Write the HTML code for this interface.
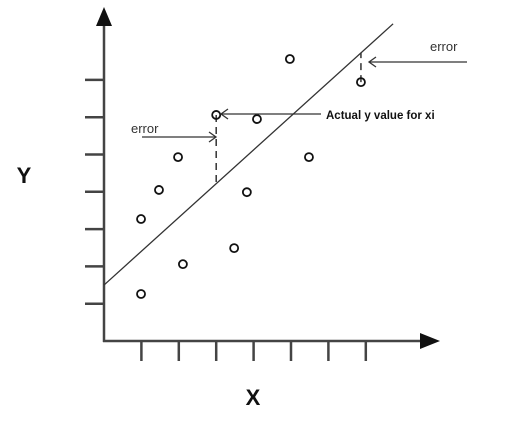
<!DOCTYPE html>
<html><head><meta charset="utf-8"><style>
html,body{margin:0;padding:0;background:#fff;}
svg{display:block;font-family:"Liberation Sans",sans-serif;}
</style></head><body>
<svg width="522" height="435" viewBox="0 0 522 435">
<g id="axes" stroke="#444" stroke-width="2.5" fill="none"></g>
<g id="marks"></g>
<text x="24" y="183" font-size="22" font-weight="bold" text-anchor="middle" fill="#111">Y</text>
<text x="253" y="405" font-size="22" font-weight="bold" text-anchor="middle" fill="#111">X</text>
<text x="131" y="133" font-size="13" fill="#333">error</text>
<text x="430" y="51" font-size="13" fill="#333">error</text>
<text x="326" y="119" font-size="11.5" font-weight="bold" fill="#111">Actual y value for xi</text>
<script>
const xTicks=[1,2,3,4,5,6,7];
const yTicks=[1,2,3,4,5,6,7];
const pointsX=[0.99,1.47,1.98,0.99,2.11,3.0,3.48,3.82,4.09,4.97,5.48,6.87];
const pointsY=[3.27,4.05,4.93,1.26,2.06,6.06,2.49,3.99,5.95,7.56,4.93,6.94];
const lineIntercept=[1.5];
const lineSlope=[0.906];
const lineRange=[0,7.73];
const errorPointIdx=[5,11];

const NS="http://www.w3.org/2000/svg";
const X=v=>104+v*37.4, Y=v=>341-v*37.3;
const axes=document.getElementById('axes'), marks=document.getElementById('marks'), svg=document.querySelector('svg');
function mk(p,tag,at){const e=document.createElementNS(NS,tag);for(const k in at)e.setAttribute(k,at[k]);p.appendChild(e);return e;}
let e=mk(axes,'line',{x1:104,y1:22,x2:104,y2:342});


e=mk(axes,'line',{x1:103,y1:341,x2:425,y2:341});


e=mk(svg,'polygon',{points:'96,26 104,7 112,26',fill:'#111'});


e=mk(svg,'polygon',{points:'420,333 440,341 420,349',fill:'#111'});


yTicks.forEach(v=>{const t=mk(axes,'line',{x1:85,x2:104,y1:Y(v),y2:Y(v)});

});
xTicks.forEach(v=>{const t=mk(axes,'line',{x1:X(v),x2:X(v),y1:341,y2:361});

});
const ly=x=>lineIntercept[0]+lineSlope[0]*x;
e=mk(marks,'line',{x1:X(lineRange[0]),y1:Y(ly(lineRange[0])),x2:X(lineRange[1]),y2:Y(ly(lineRange[1])),stroke:'#333','stroke-width':1.3});


errorPointIdx.forEach(i=>{const x=pointsX[i];
const d=mk(marks,'line',{x1:X(x),x2:X(x),y1:Y(pointsY[i]),y2:Y(ly(x)),stroke:'#333','stroke-width':1.5,'stroke-dasharray':'7,5'});

});
pointsX.forEach((x,i)=>{const c=mk(marks,'circle',{cx:X(x),cy:Y(pointsY[i]),r:4,fill:'none',stroke:'#111','stroke-width':1.8});

});
function arrow(x1,y,x2,name){const g=mk(marks,'g',{stroke:'#333','stroke-width':1.3,fill:'none'});


mk(g,'line',{x1:x1,y1:y,x2:x2,y2:y});const s=x2>x1?-1:1;
mk(g,'polyline',{points:(x2+s*7)+','+(y-5)+' '+x2+','+y+' '+(x2+s*7)+','+(y+5)});}
arrow(142,137,216,'left-error-arrow');
arrow(467,62,369,'right-error-arrow');
arrow(321,114,221,'actual-y-arrow');
</script>
</svg>
</body></html>
